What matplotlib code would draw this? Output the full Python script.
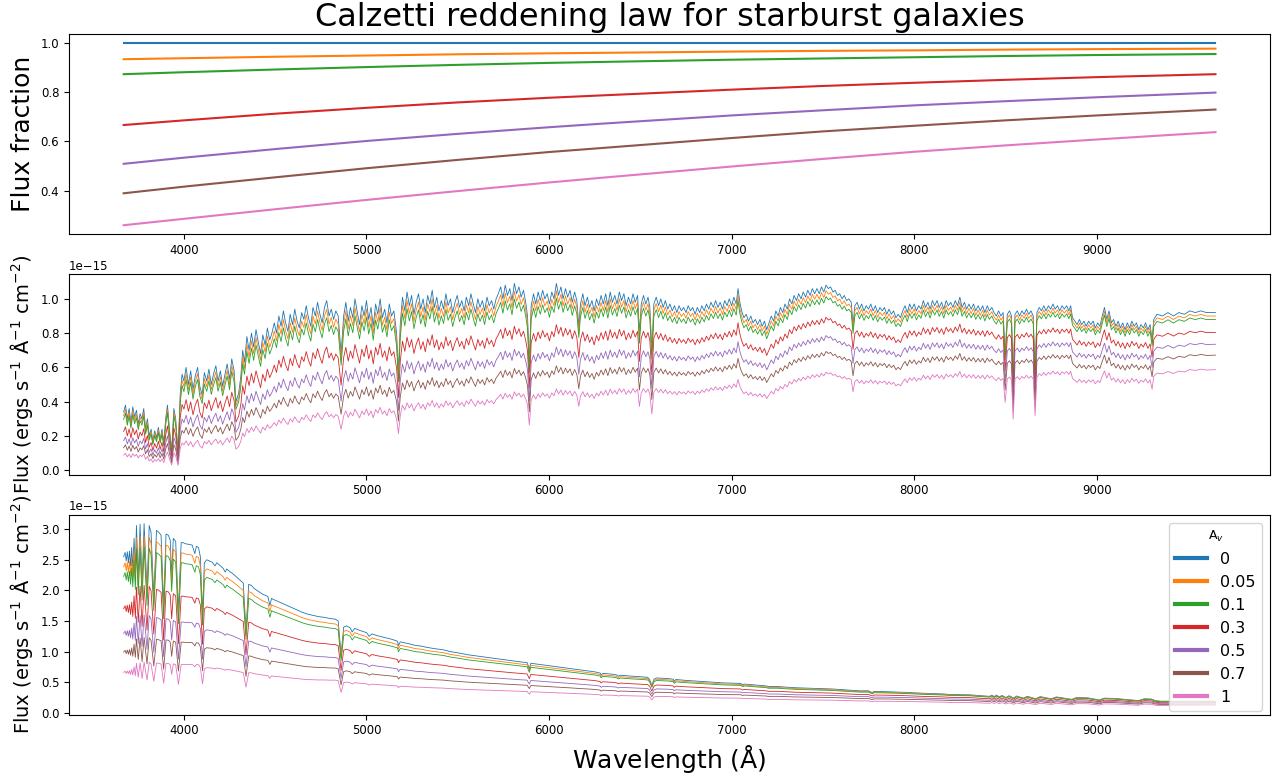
import numpy as np
import matplotlib.pyplot as plt

# extinction values and legend labels
av_values = [0, 0.05, 0.1, 0.3, 0.5, 0.7, 1]
av_labels = ['0', '0.05', '0.1', '0.3', '0.5', '0.7', '1']

# flux fraction
frac_wave = [3670, 4000, 4500, 5000, 5500, 6000, 6300, 7000, 7500, 8000, 8500, 9000, 9650]
frac_av000 = [1.0, 1.0, 1.0, 1.0, 1.0, 1.0, 1.0, 1.0, 1.0, 1.0, 1.0, 1.0, 1.0]
frac_av005 = [0.935, 0.939, 0.945, 0.950, 0.955, 0.959, 0.961, 0.966, 0.969, 0.971, 0.974, 0.976, 0.978]
frac_av010 = [0.874, 0.882, 0.893, 0.903, 0.912, 0.920, 0.924, 0.933, 0.938, 0.943, 0.948, 0.952, 0.956]
frac_av030 = [0.667, 0.686, 0.713, 0.737, 0.759, 0.778, 0.788, 0.811, 0.826, 0.839, 0.851, 0.862, 0.874]
frac_av050 = [0.509, 0.534, 0.569, 0.602, 0.631, 0.658, 0.673, 0.706, 0.727, 0.747, 0.764, 0.780, 0.799]
frac_av070 = [0.389, 0.416, 0.454, 0.491, 0.525, 0.557, 0.574, 0.614, 0.641, 0.664, 0.686, 0.706, 0.730]
frac_av100 = [0.259, 0.285, 0.324, 0.362, 0.398, 0.433, 0.453, 0.498, 0.529, 0.558, 0.584, 0.608, 0.638]
fractions = [frac_av000, frac_av005, frac_av010, frac_av030, frac_av050, frac_av070, frac_av100]

# unreddened spectrum of the middle panel (units of 1e-15)
spec_old = [
    (3670, 0.34), (3680, 0.38), (3690, 0.30), (3700, 0.36), (3710, 0.28), (3720, 0.37), (3730, 0.31),
    (3740, 0.35), (3750, 0.27), (3760, 0.33), (3770, 0.30), (3780, 0.36), (3790, 0.24), (3800, 0.30),
    (3810, 0.20), (3820, 0.24), (3830, 0.17), (3840, 0.23), (3850, 0.19), (3860, 0.25), (3870, 0.18),
    (3880, 0.24), (3890, 0.16), (3900, 0.30), (3910, 0.38), (3920, 0.25), (3933, 0.11), (3945, 0.36),
    (3955, 0.30), (3968, 0.10), (3980, 0.45), (3990, 0.56),
    (4000, 0.52), (4012, 0.60), (4025, 0.50), (4037, 0.58), (4050, 0.47), (4062, 0.55), (4075, 0.60),
    (4087, 0.49), (4100, 0.44), (4112, 0.57), (4125, 0.52), (4137, 0.59), (4150, 0.50), (4162, 0.56),
    (4175, 0.61), (4187, 0.52), (4200, 0.58), (4212, 0.49), (4225, 0.56), (4237, 0.62), (4250, 0.53),
    (4262, 0.65), (4275, 0.58), (4285, 0.40), (4300, 0.45), (4312, 0.55), (4322, 0.70), (4332, 0.63),
    (4345, 0.78), (4357, 0.70), (4370, 0.80), (4382, 0.72), (4395, 0.82), (4407, 0.75), (4420, 0.68),
    (4432, 0.79), (4445, 0.73), (4457, 0.83), (4470, 0.76), (4482, 0.80), (4495, 0.86),
    (4507, 0.80), (4520, 0.90), (4532, 0.84), (4545, 0.93), (4557, 0.86), (4570, 0.81), (4582, 0.91),
    (4595, 0.85), (4607, 0.94), (4620, 0.87), (4632, 0.83), (4645, 0.92),
    (4657, 0.88), (4670, 0.96), (4682, 0.89), (4695, 0.84), (4707, 0.95), (4720, 0.90), (4732, 0.98),
    (4745, 0.91), (4757, 0.86), (4770, 0.95), (4782, 0.99), (4795, 0.90), (4807, 0.94), (4820, 0.88),
    (4832, 0.93), (4845, 0.90), (4861, 0.68), (4875, 0.90),
    (4887, 0.98), (4900, 0.87), (4912, 0.95), (4925, 0.89), (4937, 1.00), (4950, 0.92), (4962, 0.85),
    (4975, 0.96), (4987, 0.90), (5000, 0.99), (5012, 0.88), (5025, 0.95), (5037, 0.84), (5050, 0.97),
    (5062, 0.91), (5075, 1.00), (5087, 0.89), (5100, 0.94), (5112, 0.86), (5125, 0.97), (5137, 0.90),
    (5150, 0.93), (5165, 0.80), (5175, 0.57), (5185, 0.85),
    (5197, 1.01), (5210, 0.93), (5222, 1.04), (5235, 0.96), (5247, 1.02), (5260, 0.91), (5272, 0.98),
    (5285, 1.03), (5297, 0.94), (5310, 1.00), (5322, 0.92), (5335, 1.02), (5347, 0.97), (5360, 1.05),
    (5372, 0.95), (5385, 1.01), (5397, 0.93), (5410, 0.99), (5422, 0.94), (5435, 1.03), (5447, 0.96),
    (5460, 1.00), (5472, 0.92), (5485, 0.98), (5497, 1.02), (5510, 0.95), (5522, 0.99), (5535, 0.93),
    (5547, 1.01), (5560, 0.96), (5572, 1.03), (5585, 0.97), (5597, 0.92), (5610, 1.00), (5622, 0.95),
    (5635, 0.99), (5647, 0.93), (5660, 1.01), (5672, 0.96), (5685, 0.99), (5697, 0.94), (5710, 1.00),
    (5722, 1.03), (5735, 1.07), (5747, 1.00), (5760, 1.08), (5772, 1.02), (5785, 1.06), (5797, 0.99),
    (5810, 1.09), (5822, 1.03), (5835, 1.07), (5847, 1.01), (5860, 1.05), (5872, 0.98), (5882, 0.90),
    (5892, 0.62), (5902, 0.96),
    (5915, 1.03), (5927, 0.97), (5940, 1.04), (5952, 0.99), (5965, 1.05), (5977, 1.00), (5990, 1.03),
    (6002, 0.97), (6015, 1.04), (6027, 1.00), (6040, 1.09), (6052, 1.02), (6065, 1.07), (6077, 1.00),
    (6090, 1.06), (6102, 1.01), (6115, 1.05), (6127, 0.98), (6140, 1.04), (6152, 0.99), (6163, 0.84),
    (6172, 0.97), (6185, 1.03), (6197, 0.96), (6210, 1.01), (6222, 0.95), (6235, 0.99), (6247, 0.93),
    (6260, 1.00), (6272, 0.96), (6285, 1.02), (6297, 0.97), (6310, 1.03), (6322, 0.96), (6335, 1.04),
    (6347, 0.98), (6360, 1.02), (6372, 0.97), (6385, 1.04), (6397, 0.99), (6410, 1.03), (6422, 0.96),
    (6435, 1.01), (6447, 0.97), (6460, 1.03), (6472, 0.98), (6485, 1.02), (6495, 0.80), (6505, 0.97),
    (6517, 1.02), (6530, 0.97), (6542, 1.01), (6552, 0.95), (6563, 0.70), (6574, 0.97),
    (6587, 1.01), (6600, 0.96), (6612, 1.00), (6625, 0.95), (6637, 0.99), (6650, 0.94), (6662, 0.97),
    (6675, 0.93), (6687, 0.96), (6700, 0.92), (6712, 0.96), (6725, 0.93), (6737, 0.95), (6750, 0.92),
    (6762, 0.96), (6775, 0.93), (6787, 0.95), (6800, 0.91), (6812, 0.95), (6825, 0.92), (6837, 0.96),
    (6850, 0.93), (6862, 0.97), (6875, 0.94), (6887, 0.98), (6900, 0.95), (6912, 0.99), (6925, 0.95),
    (6937, 0.98), (6950, 0.94), (6962, 0.99), (6975, 0.96), (6987, 1.00), (7000, 0.96), (7012, 1.01),
    (7025, 0.97), (7035, 1.06), (7045, 0.98),
    (7055, 0.93), (7067, 0.89), (7080, 0.91), (7092, 0.87), (7105, 0.90), (7117, 0.86), (7130, 0.88),
    (7142, 0.85), (7155, 0.88), (7167, 0.84), (7180, 0.87), (7192, 0.82), (7205, 0.86),
    (7217, 0.90), (7230, 0.87), (7242, 0.93), (7255, 0.90), (7267, 0.95), (7280, 0.92), (7292, 0.97),
    (7305, 0.94), (7317, 1.00), (7330, 0.97), (7342, 1.02), (7355, 0.99), (7367, 1.03), (7380, 1.00),
    (7392, 1.04), (7405, 1.01), (7417, 1.05), (7430, 1.02), (7442, 1.06), (7455, 1.03), (7467, 1.06),
    (7480, 1.03), (7492, 1.07), (7505, 1.04), (7517, 1.08), (7530, 1.06), (7542, 1.07),
    (7555, 1.04), (7567, 1.05), (7580, 1.02), (7592, 1.03), (7605, 1.00), (7617, 1.02), (7630, 0.99),
    (7642, 1.00), (7655, 0.98), (7665, 0.85), (7675, 0.96),
    (7687, 0.98), (7700, 0.94), (7712, 0.97), (7725, 0.93), (7737, 0.96), (7750, 0.94), (7762, 0.97),
    (7775, 0.93), (7787, 0.96), (7800, 0.92), (7812, 0.95), (7825, 0.93), (7837, 0.95), (7850, 0.91),
    (7862, 0.94), (7875, 0.91), (7887, 0.93), (7900, 0.89), (7912, 0.91), (7925, 0.89),
    (7937, 0.93), (7950, 0.96), (7962, 0.92), (7975, 0.97), (7987, 0.94), (8000, 0.97), (8012, 0.93),
    (8025, 0.96), (8037, 0.94), (8050, 0.99), (8062, 0.95), (8075, 0.98), (8087, 0.94), (8100, 0.99),
    (8112, 0.96), (8125, 0.99), (8137, 0.95), (8150, 0.98), (8162, 0.94), (8175, 0.99), (8187, 0.96),
    (8200, 0.98), (8212, 0.95), (8225, 0.99), (8237, 0.96), (8250, 1.01), (8262, 0.95), (8275, 0.98),
    (8287, 0.94), (8300, 0.97), (8312, 0.94), (8325, 0.97), (8337, 0.93), (8350, 0.96), (8362, 0.93),
    (8375, 0.96), (8387, 0.92), (8400, 0.96), (8412, 0.93), (8425, 0.95), (8437, 0.92),
    (8450, 0.90), (8462, 0.93), (8475, 0.90), (8487, 0.92), (8498, 0.68), (8510, 0.91), (8522, 0.93),
    (8533, 0.90), (8542, 0.51), (8552, 0.91), (8565, 0.93), (8577, 0.90), (8590, 0.93), (8602, 0.91),
    (8615, 0.94), (8627, 0.91), (8640, 0.93), (8652, 0.90), (8662, 0.54), (8672, 0.92),
    (8685, 0.95), (8697, 0.93), (8710, 0.96), (8722, 0.93), (8735, 0.96), (8747, 0.94), (8760, 0.97),
    (8772, 0.94), (8785, 0.96), (8797, 0.93), (8810, 0.96), (8822, 0.94), (8835, 0.96), (8847, 0.93),
    (8857, 0.96), (8867, 0.89), (8880, 0.87), (8892, 0.85), (8905, 0.88), (8917, 0.85), (8930, 0.87),
    (8942, 0.84), (8955, 0.87), (8967, 0.85), (8980, 0.87), (8992, 0.83), (9005, 0.86), (9017, 0.84),
    (9030, 0.90), (9042, 0.95), (9055, 0.88), (9067, 0.93), (9080, 0.86), (9092, 0.88), (9105, 0.84),
    (9117, 0.87), (9130, 0.83), (9142, 0.86), (9155, 0.82), (9167, 0.86), (9180, 0.83), (9192, 0.87),
    (9205, 0.84), (9217, 0.86), (9230, 0.82), (9242, 0.85), (9255, 0.83), (9267, 0.86), (9280, 0.82),
    (9292, 0.85), (9303, 0.76), (9312, 0.88),
    (9330, 0.91), (9360, 0.90), (9390, 0.92), (9420, 0.90), (9450, 0.92), (9480, 0.91), (9510, 0.93),
    (9540, 0.92), (9570, 0.93), (9600, 0.92), (9650, 0.92),
]

# unreddened spectrum of the bottom panel (units of 1e-15)
spec_young = [
    (3670, 2.55), (3678, 2.62), (3684, 2.48), (3690, 2.63), (3696, 2.45), (3702, 2.64), (3708, 2.40),
    (3714, 2.70), (3720, 2.35), (3727, 2.85), (3734, 2.30), (3740, 3.06), (3750, 2.20), (3760, 3.08),
    (3771, 2.10), (3782, 3.09), (3798, 2.00), (3810, 3.06), (3820, 2.95), (3835, 1.90), (3850, 2.98),
    (3862, 2.95), (3875, 2.90), (3889, 1.75), (3902, 2.92), (3915, 2.90), (3925, 2.82), (3933, 2.25),
    (3942, 2.85), (3955, 2.80), (3970, 1.65), (3985, 2.78), (3995, 2.78), (4010, 2.76), (4030, 2.75),
    (4045, 2.74), (4060, 2.60), (4068, 2.72), (4080, 2.70), (4090, 2.55), (4102, 1.62), (4112, 2.45),
    (4125, 2.50), (4140, 2.48), (4155, 2.46), (4170, 2.40), (4180, 2.45), (4200, 2.40), (4215, 2.36),
    (4226, 2.30), (4235, 2.35), (4250, 2.31), (4265, 2.28), (4280, 2.24), (4295, 2.20), (4310, 2.16),
    (4325, 2.12), (4340, 1.35), (4355, 2.10), (4370, 2.08), (4385, 2.03), (4400, 2.00), (4415, 1.97),
    (4430, 1.94), (4445, 1.92), (4460, 1.90), (4471, 1.75), (4480, 1.87), (4490, 1.85), (4500, 1.84),
    (4530, 1.80), (4560, 1.76), (4590, 1.72), (4620, 1.68), (4650, 1.64), (4680, 1.61), (4710, 1.59),
    (4740, 1.57), (4770, 1.56), (4800, 1.54), (4830, 1.53), (4845, 1.50), (4861, 0.95), (4875, 1.40),
    (4890, 1.42), (4910, 1.39), (4922, 1.32), (4935, 1.38), (4960, 1.35), (5000, 1.31), (5015, 1.25),
    (5030, 1.29), (5060, 1.26), (5100, 1.23), (5140, 1.20), (5170, 1.17), (5175, 1.10), (5185, 1.16),
    (5230, 1.13), (5270, 1.10), (5300, 1.09), (5330, 1.07), (5370, 1.05), (5420, 1.03), (5460, 1.00),
    (5500, 0.98), (5552, 0.95), (5600, 0.93), (5650, 0.91), (5700, 0.89), (5750, 0.87), (5800, 0.85),
    (5850, 0.83), (5880, 0.82), (5892, 0.72), (5900, 0.81), (5950, 0.79), (6000, 0.77), (6050, 0.75),
    (6100, 0.73), (6150, 0.71), (6200, 0.69), (6250, 0.67), (6280, 0.65), (6285, 0.62), (6295, 0.645),
    (6350, 0.63), (6370, 0.62), (6380, 0.60), (6390, 0.615), (6450, 0.60), (6500, 0.59), (6540, 0.58),
    (6550, 0.55), (6563, 0.45), (6575, 0.55), (6590, 0.57), (6650, 0.56), (6680, 0.55), (6685, 0.52),
    (6695, 0.545), (6750, 0.53), (6850, 0.51), (6950, 0.49), (7050, 0.48), (7060, 0.46), (7070, 0.47),
    (7150, 0.45), (7190, 0.44), (7200, 0.43), (7250, 0.43), (7350, 0.41), (7450, 0.40), (7550, 0.39),
    (7650, 0.37), (7700, 0.36), (7750, 0.36), (7770, 0.33), (7780, 0.35), (7850, 0.345), (7950, 0.335),
    (8050, 0.32), (8100, 0.315), (8150, 0.31), (8200, 0.30), (8300, 0.295), (8413, 0.27), (8425, 0.29),
    (8438, 0.265), (8450, 0.29), (8467, 0.26), (8480, 0.285), (8502, 0.25), (8520, 0.28), (8545, 0.24),
    (8560, 0.275), (8598, 0.24), (8620, 0.27), (8665, 0.23), (8690, 0.265), (8750, 0.23), (8780, 0.26),
    (8863, 0.22), (8890, 0.25), (8950, 0.245), (9015, 0.21), (9040, 0.24), (9100, 0.235), (9229, 0.20),
    (9260, 0.23), (9300, 0.225), (9320, 0.20), (9350, 0.19), (9400, 0.19), (9450, 0.19), (9500, 0.19),
    (9550, 0.19), (9600, 0.19), (9650, 0.19),
]

old_wave, old_flux = np.array(spec_old).T
young_wave, young_flux = np.array(spec_young).T

fig, axs = plt.subplots(3, 1, figsize=(12.79, 7.76), dpi=100)
fig.subplots_adjust(left=0.054, right=0.993, top=0.956, bottom=0.079, hspace=0.2)

for av, lab, frac in zip(av_values, av_labels, fractions):
    axs[0].plot(frac_wave, frac, lw=1.5, label=lab)
    # reddened spectra = intrinsic spectrum times the flux fraction
    f_old = np.interp(old_wave, frac_wave, frac)
    f_young = np.interp(young_wave, frac_wave, frac)
    axs[1].plot(old_wave, old_flux * f_old * 1e-15, lw=0.6, label=lab)
    axs[2].plot(young_wave, young_flux * f_young * 1e-15, lw=0.6, label=lab)

axs[0].set_title('Calzetti reddening law for starburst galaxies', fontsize=23)
axs[0].set_ylabel('Flux fraction', fontsize=18)
flux_label = 'Flux (ergs s$^{-1}$ $\\mathrm{\\AA}^{-1}$ cm$^{-2}$)'
axs[1].set_ylabel(flux_label, fontsize=14)
axs[2].set_ylabel(flux_label, fontsize=14)
axs[2].set_xlabel('Wavelength ($\\mathrm{\\AA}$)', fontsize=18)

for ax in axs:
    ax.tick_params(labelsize=8.5)
    ax.yaxis.get_offset_text().set_fontsize(8.5)

leg = axs[2].legend(title='A$_v$', fontsize=11.5, title_fontsize=9, loc='upper right')
for line in leg.get_lines():
    line.set_linewidth(3)

fig.savefig('out.png', dpi=100)
